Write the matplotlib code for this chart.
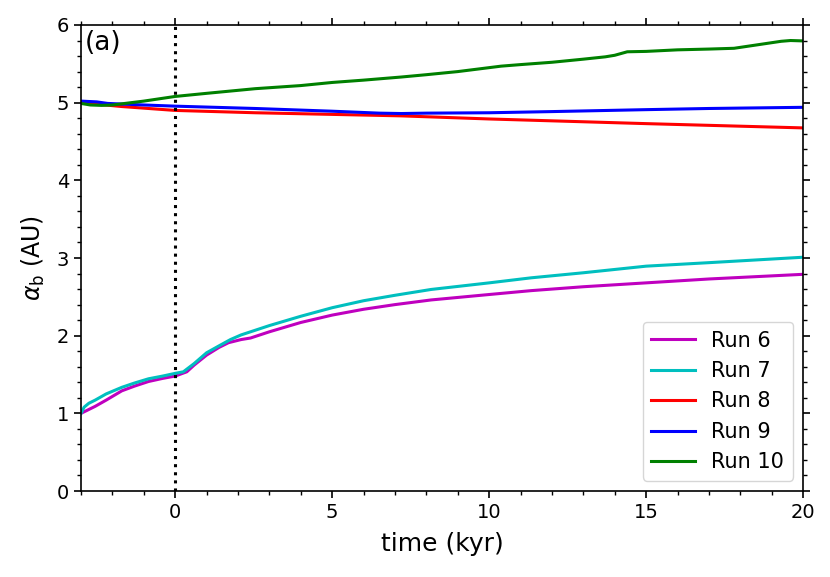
import matplotlib
matplotlib.use("Agg")
import matplotlib.pyplot as plt
from matplotlib.ticker import MultipleLocator

# time (kyr) and binary semi-major axis (AU)
t6 = [-3.0, -2.8, -2.55, -2.2, -1.7, -1.3, -0.85, -0.4, 0.0, 0.37, 0.6, 1.0, 1.4, 1.7,
      2.1, 2.4, 3.0, 4.0, 5.0, 6.0, 7.0, 8.15, 10.0, 11.34, 13.0, 15.0, 17.0, 20.0]
run6 = [1.0, 1.04, 1.09, 1.17, 1.29, 1.35, 1.41, 1.45, 1.48, 1.535, 1.62, 1.75, 1.85, 1.91,
        1.95, 1.97, 2.05, 2.17, 2.265, 2.34, 2.40, 2.46, 2.53, 2.58, 2.63, 2.68, 2.73, 2.79]

t7 = [-3.0, -2.9, -2.75, -2.55, -2.2, -1.7, -1.3, -0.85, -0.4, 0.0, 0.26, 0.6, 1.0, 1.4,
      1.76, 2.1, 3.0, 4.0, 5.0, 6.0, 7.0, 8.15, 10.0, 11.34, 13.0, 15.0, 17.0, 20.0]
run7 = [1.0, 1.08, 1.13, 1.17, 1.25, 1.335, 1.39, 1.445, 1.48, 1.515, 1.535, 1.64, 1.78, 1.87,
        1.95, 2.01, 2.13, 2.25, 2.36, 2.45, 2.52, 2.595, 2.68, 2.745, 2.81, 2.895, 2.94, 3.01]

t8 = [-3.0, -1.7, 0.0, 2.55, 7.2, 10.0, 15.0, 20.0]
run8 = [5.0, 4.95, 4.90, 4.87, 4.83, 4.79, 4.73, 4.675]

t9 = [-3.0, -2.5, -2.15, -1.0, 0.0, 2.55, 5.0, 6.5, 7.2, 8.0, 10.0, 12.0, 15.0, 17.0, 20.0]
run9 = [5.02, 5.01, 4.99, 4.97, 4.955, 4.925, 4.89, 4.865, 4.86, 4.865, 4.87, 4.885, 4.91,
        4.925, 4.94]

t10 = [-3.0, -2.7, -2.35, -2.0, -1.0, 0.0, 1.0, 2.55, 4.0, 5.0, 6.0, 7.2, 8.0, 9.0, 10.38,
       11.0, 12.0, 13.0, 13.7, 14.0, 14.4, 15.0, 16.0, 17.0, 17.8, 18.3, 18.8, 19.3, 19.6,
       20.0]
run10 = [4.99, 4.97, 4.965, 4.97, 5.02, 5.08, 5.12, 5.18, 5.22, 5.26, 5.29, 5.33, 5.36, 5.40,
         5.47, 5.49, 5.52, 5.56, 5.59, 5.61, 5.655, 5.66, 5.68, 5.69, 5.70, 5.73, 5.76, 5.79,
         5.80, 5.795]

fig = plt.figure(figsize=(8.3, 5.77), dpi=100)
ax = fig.add_axes([0.0976, 0.149, 0.870, 0.8077])

ax.plot(t6, run6, color="m", lw=2.2, label="Run 6")
ax.plot(t7, run7, color="c", lw=2.2, label="Run 7")
ax.plot(t8, run8, color="r", lw=2.2, label="Run 8")
ax.plot(t9, run9, color="b", lw=2.2, label="Run 9")
ax.plot(t10, run10, color="g", lw=2.2, label="Run 10")
ax.axvline(0, color="k", ls=":", lw=2.2)

ax.set_xlim(-3, 20)
ax.set_ylim(0, 6)
ax.xaxis.set_major_locator(MultipleLocator(5))
ax.xaxis.set_minor_locator(MultipleLocator(1))
ax.yaxis.set_major_locator(MultipleLocator(1))
ax.yaxis.set_minor_locator(MultipleLocator(0.2))
ax.tick_params(which="both", direction="out", top=True, right=True, labelsize=14)
ax.tick_params(which="major", length=5, width=1.2)
ax.tick_params(which="minor", length=3, width=1)
for sp in ax.spines.values():
    sp.set_linewidth(1.2)

ax.set_xlabel("time (kyr)", fontsize=18, labelpad=7)
ax.set_ylabel(r"$\alpha_{\rm b}$ (AU)", fontsize=17, labelpad=7)
ax.text(0.005, 0.99, "(a)", transform=ax.transAxes, fontsize=19, va="top", ha="left")

ax.legend(loc="lower right", fontsize=15, handlelength=2.1)

fig.savefig("out.png", dpi=100)
